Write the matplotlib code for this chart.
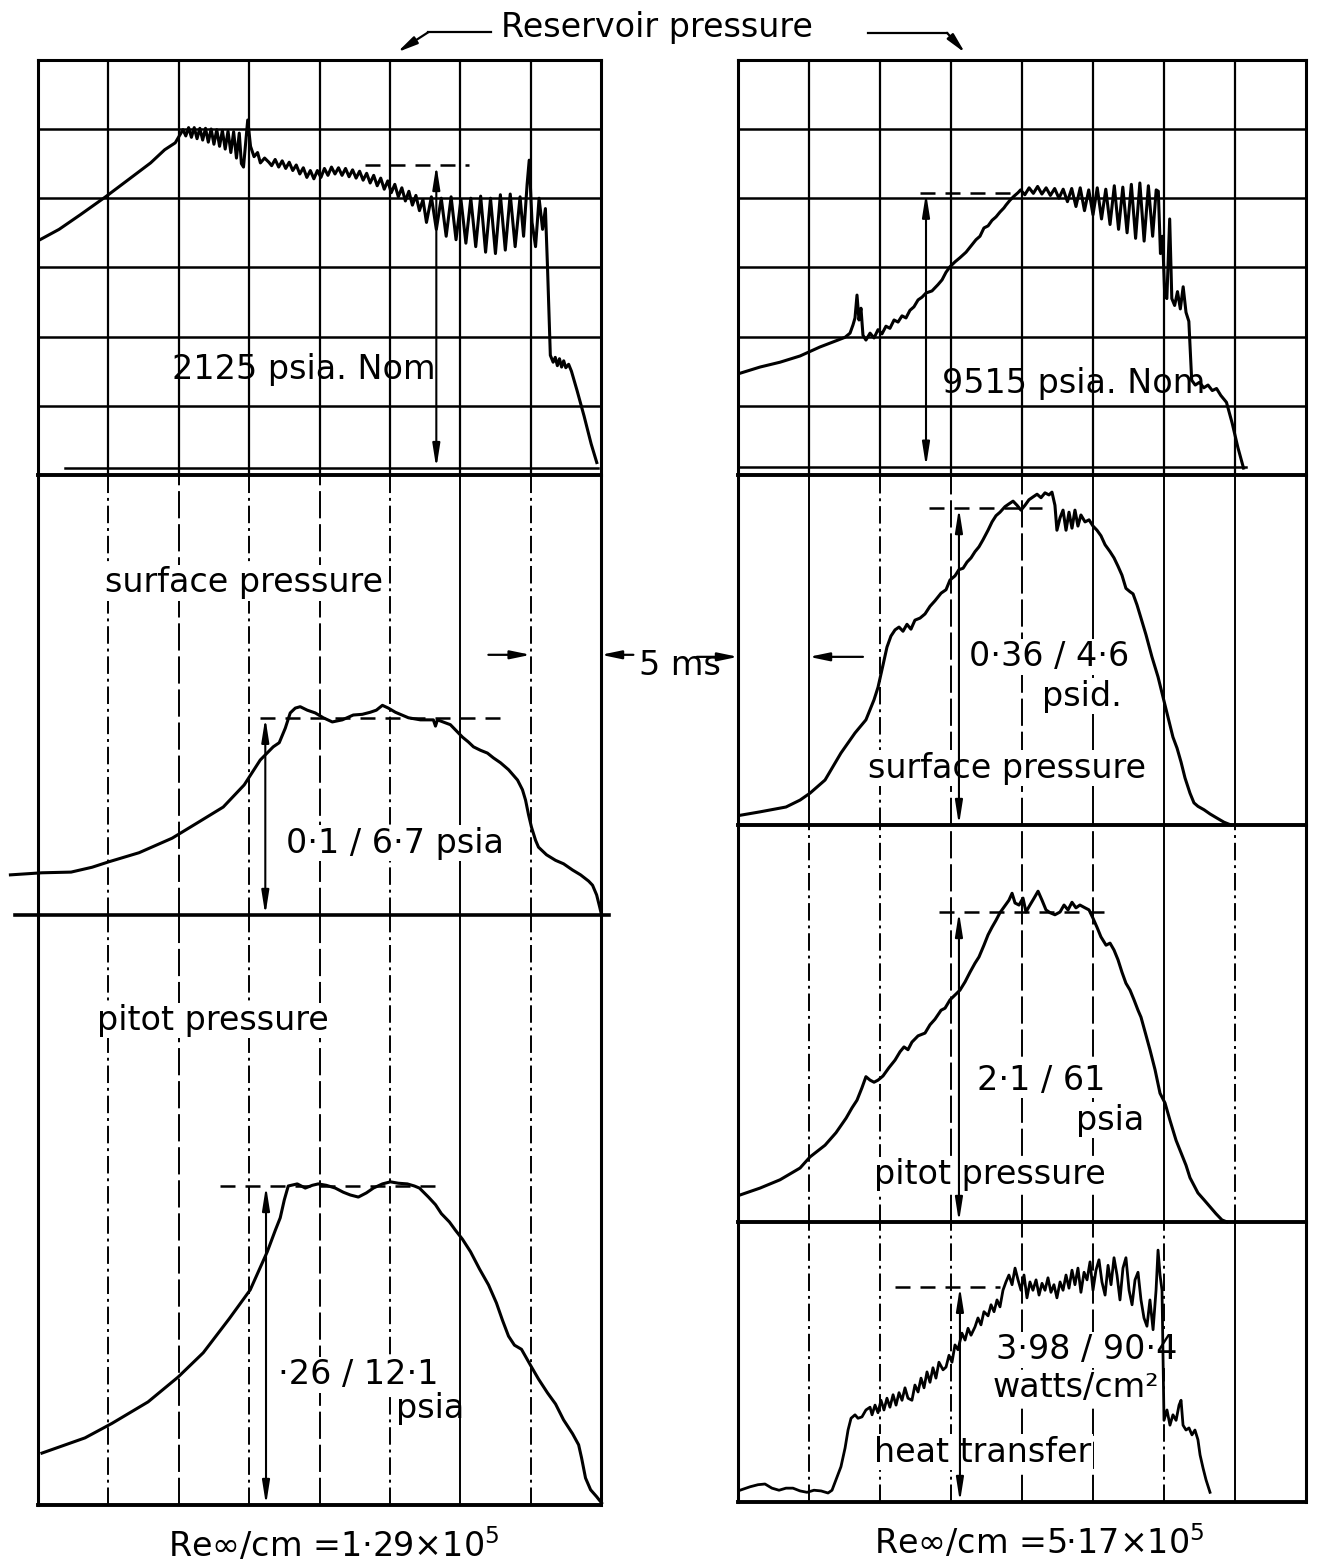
import numpy as np
import matplotlib.pyplot as plt

# time in ms (one grid division = 5 ms), signal in grid divisions above the trace baseline
res_left = [(0.14, 3.40), (1.5, 3.55), (3.0, 3.76), (4.8, 4.02), (6.5, 4.28), (8.0, 4.51), (9.0, 4.70),
            (9.75, 4.80), (10.3, 4.99), (10.5, 4.90), (10.7, 5.02), (10.9, 4.88), (11.1, 5.02), (11.3, 4.86),
            (11.5, 5.01), (11.7, 4.84), (11.9, 5.01), (12.1, 4.81), (12.3, 5.00), (12.5, 4.78), (12.7, 4.99),
            (12.9, 4.75), (13.1, 4.98), (13.3, 4.71), (13.5, 4.97), (13.7, 4.66), (13.9, 4.96), (14.1, 4.58),
            (14.3, 4.94), (14.45, 4.50), (14.6, 4.45), (14.9, 5.13), (15.1, 4.75), (15.35, 4.60), (15.6, 4.66),
            (15.8, 4.51), (16.1, 4.58), (16.4, 4.52), (16.6, 4.47), (16.85, 4.56), (17.1, 4.45), (17.35, 4.54),
            (17.6, 4.43), (17.85, 4.52), (18.1, 4.40), (18.35, 4.48), (18.6, 4.35), (18.85, 4.44), (19.1, 4.30),
            (19.35, 4.40), (19.6, 4.28), (19.85, 4.40), (20.1, 4.30), (20.35, 4.43), (20.6, 4.33), (20.85, 4.45),
            (21.1, 4.35), (21.35, 4.44), (21.6, 4.33), (21.85, 4.43), (22.1, 4.31), (22.35, 4.41), (22.6, 4.29),
            (22.85, 4.39), (23.1, 4.26), (23.35, 4.36), (23.6, 4.22), (23.85, 4.33), (24.1, 4.18), (24.35, 4.29),
            (24.6, 4.13), (24.85, 4.25), (25.1, 4.08), (25.35, 4.20), (25.6, 4.02), (25.85, 4.15), (26.1, 3.96),
            (26.35, 4.10), (26.6, 3.90), (26.85, 4.04), (27.1, 3.82), (27.35, 3.98), (27.6, 3.65), (27.95, 4.02),
            (28.3, 3.55), (28.65, 4.00), (29.0, 3.45), (29.35, 4.02), (29.7, 3.40), (30.05, 3.98), (30.4, 3.35),
            (30.75, 4.00), (31.1, 3.30), (31.45, 4.03), (31.8, 3.22), (32.15, 4.00), (32.5, 3.20), (32.85, 4.05),
            (33.2, 3.25), (33.55, 4.06), (33.9, 3.30), (34.25, 4.02), (34.5, 3.45), (34.75, 4.20), (34.9, 4.55),
            (35.1, 3.65), (35.35, 3.30), (35.6, 4.00), (35.85, 3.55), (36.05, 3.85), (36.2, 3.00), (36.4, 1.73),
            (36.6, 1.63), (36.75, 1.70), (36.9, 1.58), (37.05, 1.68), (37.2, 1.56), (37.35, 1.65), (37.5, 1.55),
            (37.7, 1.60), (37.9, 1.50), (38.3, 1.22), (38.8, 0.85), (39.3, 0.45), (39.7, 0.18)]

surf_left = [(-1.96, 0.58), (0.28, 0.61), (2.35, 0.62), (3.84, 0.69), (5.05, 0.77), (7.18, 0.90), (9.53, 1.11),
             (11.31, 1.33), (13.16, 1.56), (14.65, 1.88), (15.79, 2.24), (16.71, 2.43), (17.14, 2.49), (17.57, 2.70),
             (17.92, 2.92), (18.28, 2.99), (18.63, 3.01), (19.13, 2.96), (19.70, 2.92), (20.27, 2.85), (20.91, 2.79),
             (21.62, 2.82), (22.40, 2.89), (23.04, 2.90), (23.61, 2.93), (24.04, 2.96), (24.47, 3.03), (24.89, 2.99),
             (25.39, 2.93), (26.32, 2.85), (27.17, 2.82), (28.09, 2.82), (28.24, 2.73), (28.38, 2.82), (29.30, 2.75),
             (30.16, 2.57), (30.58, 2.50), (30.94, 2.43), (31.44, 2.38), (31.93, 2.34), (32.36, 2.27), (32.86, 2.20),
             (33.43, 2.10), (34.07, 1.95), (34.42, 1.81), (34.64, 1.66), (34.85, 1.45), (35.06, 1.27), (35.35, 1.08),
             (35.56, 0.98), (36.13, 0.87), (36.77, 0.79), (37.34, 0.74), (37.98, 0.65), (38.55, 0.58), (39.12, 0.49),
             (39.40, 0.43), (39.69, 0.29), (39.90, 0.12), (40.04, 0.0)]

pitot_left = [(0.28, 0.75), (3.34, 0.97), (5.26, 1.18), (7.82, 1.49), (9.96, 1.85), (11.74, 2.20), (13.58, 2.69),
              (15.08, 3.11), (16.29, 3.66), (16.86, 3.97), (17.21, 4.15), (17.50, 4.41), (17.78, 4.61), (18.42, 4.64),
              (18.99, 4.58), (19.49, 4.62), (19.91, 4.64), (20.48, 4.62), (21.12, 4.58), (21.69, 4.52), (22.19, 4.48),
              (22.76, 4.45), (23.33, 4.51), (23.83, 4.58), (24.47, 4.64), (25.04, 4.67), (25.60, 4.65), (26.24, 4.64),
              (26.74, 4.61), (27.10, 4.58), (27.74, 4.45), (28.24, 4.34), (28.66, 4.21), (29.23, 4.09), (29.66, 3.97),
              (30.16, 3.84), (30.73, 3.66), (31.37, 3.41), (32.01, 3.18), (32.57, 2.92), (33.00, 2.67), (33.43, 2.44),
              (33.85, 2.31), (34.35, 2.25), (34.99, 2.02), (35.56, 1.82), (36.20, 1.62), (36.77, 1.46), (37.34, 1.23),
              (37.98, 1.03), (38.41, 0.87), (38.62, 0.68), (38.90, 0.39), (39.26, 0.22), (39.69, 0.12), (40.04, 0.03)]

res_right = [(0.14, 1.47), (1.55, 1.56), (2.96, 1.63), (4.37, 1.72), (5.77, 1.85), (7.04, 1.95), (7.54, 1.99),
             (7.89, 2.05), (8.10, 2.17), (8.24, 2.27), (8.38, 2.60), (8.52, 2.24), (8.66, 2.41), (8.80, 2.02),
             (9.01, 1.95), (9.30, 2.05), (9.58, 1.98), (9.86, 2.10), (10.14, 2.04), (10.42, 2.15), (10.70, 2.12),
             (10.99, 2.24), (11.27, 2.21), (11.55, 2.30), (11.83, 2.27), (12.11, 2.38), (12.39, 2.43), (12.68, 2.53),
             (12.96, 2.57), (13.24, 2.63), (13.66, 2.66), (14.08, 2.75), (14.37, 2.82), (14.65, 2.93), (14.93, 3.01),
             (15.28, 3.08), (15.63, 3.14), (16.06, 3.22), (16.41, 3.31), (16.76, 3.40), (17.04, 3.45), (17.32, 3.57),
             (17.61, 3.60), (17.89, 3.68), (18.17, 3.73), (18.45, 3.80), (18.73, 3.86), (18.87, 3.90), (19.15, 3.97),
             (19.44, 4.03), (19.72, 4.08), (19.9, 4.12), (20.2, 4.05), (20.5, 4.15), (20.8, 4.07), (21.1, 4.17),
             (21.4, 4.06), (21.7, 4.15), (22.0, 4.04), (22.3, 4.14), (22.6, 4.00), (22.9, 4.13), (23.2, 3.95),
             (23.5, 4.14), (23.8, 3.88), (24.1, 4.15), (24.4, 3.82), (24.7, 4.12), (25.0, 3.76), (25.3, 4.15),
             (25.6, 3.70), (25.9, 4.13), (26.2, 3.62), (26.5, 4.18), (26.8, 3.55), (27.1, 4.16), (27.4, 3.50),
             (27.7, 4.20), (28.0, 3.42), (28.3, 4.22), (28.6, 3.38), (28.9, 4.18), (29.2, 3.45), (29.45, 4.12),
             (29.6, 4.10), (29.75, 3.20), (29.9, 3.45), (30.05, 2.60), (30.2, 2.55), (30.4, 3.70), (30.55, 2.55),
             (30.75, 2.45), (30.95, 2.65), (31.15, 2.40), (31.35, 2.72), (31.55, 2.35), (31.75, 2.22), (31.95, 1.37),
             (32.2, 1.30), (32.5, 1.34), (32.8, 1.26), (33.1, 1.30), (33.4, 1.22), (33.7, 1.25), (34.0, 1.15),
             (34.4, 1.05), (34.8, 0.75), (35.2, 0.40), (35.6, 0.10)]

surf_right = [(0.14, 0.14), (1.55, 0.19), (3.38, 0.26), (4.37, 0.36), (5.07, 0.46), (6.13, 0.65), (7.25, 1.04),
              (8.24, 1.33), (9.01, 1.52), (9.58, 1.81), (9.86, 1.99), (10.21, 2.31), (10.49, 2.57), (10.77, 2.73),
              (11.06, 2.82), (11.34, 2.86), (11.62, 2.80), (11.90, 2.90), (12.18, 2.83), (12.46, 2.96), (12.82, 2.99),
              (13.17, 3.05), (13.52, 3.16), (13.87, 3.24), (14.30, 3.35), (14.65, 3.40), (14.93, 3.54), (15.28, 3.60),
              (15.56, 3.69), (15.85, 3.71), (16.13, 3.80), (16.41, 3.86), (16.69, 3.95), (16.97, 4.02), (17.25, 4.12),
              (17.61, 4.26), (17.89, 4.38), (18.17, 4.47), (18.45, 4.52), (18.80, 4.60), (19.08, 4.64), (19.37, 4.68),
              (19.65, 4.62), (19.93, 4.55), (20.21, 4.62), (20.49, 4.70), (20.77, 4.74), (21.06, 4.78), (21.34, 4.73),
              (21.62, 4.80), (21.90, 4.77), (22.11, 4.81), (22.32, 4.62), (22.46, 4.26), (22.68, 4.44), (22.89, 4.55),
              (23.10, 4.26), (23.31, 4.52), (23.52, 4.29), (23.73, 4.55), (23.94, 4.32), (24.15, 4.48), (24.44, 4.38),
              (24.72, 4.41), (25.00, 4.32), (25.28, 4.26), (25.56, 4.18), (25.85, 4.05), (26.20, 3.95), (26.48, 3.86),
              (26.76, 3.74), (27.04, 3.61), (27.32, 3.42), (27.61, 3.37), (27.82, 3.34), (28.10, 3.18), (28.38, 2.99),
              (28.73, 2.75), (29.15, 2.43), (29.58, 2.14), (29.93, 1.85), (30.28, 1.56), (30.63, 1.27), (30.92, 1.11),
              (31.20, 0.91), (31.48, 0.68), (31.83, 0.46), (32.11, 0.32), (32.39, 0.27), (32.82, 0.22), (33.24, 0.16),
              (33.73, 0.10), (34.23, 0.04), (34.72, 0.0)]

pitot_right = [(0.14, 0.39), (1.55, 0.49), (2.96, 0.61), (4.37, 0.78), (5.07, 0.94), (6.13, 1.11), (6.90, 1.29),
               (7.61, 1.50), (8.03, 1.65), (8.38, 1.76), (8.73, 1.94), (9.01, 2.10), (9.30, 2.05), (9.58, 2.02),
               (9.86, 2.05), (10.21, 2.11), (10.63, 2.23), (11.06, 2.34), (11.41, 2.46), (11.69, 2.53), (11.97, 2.49),
               (12.25, 2.60), (12.68, 2.69), (13.17, 2.73), (13.52, 2.85), (13.87, 2.93), (14.30, 3.06), (14.58, 3.09),
               (14.93, 3.21), (15.28, 3.28), (15.63, 3.35), (15.99, 3.47), (16.34, 3.61), (16.69, 3.74), (16.97, 3.83),
               (17.32, 4.00), (17.61, 4.15), (17.89, 4.26), (18.17, 4.36), (18.45, 4.47), (18.73, 4.55), (19.08, 4.65),
               (19.30, 4.75), (19.51, 4.61), (19.79, 4.58), (20.07, 4.68), (20.28, 4.48), (20.56, 4.58), (20.85, 4.68),
               (21.13, 4.78), (21.41, 4.65), (21.69, 4.51), (21.97, 4.47), (22.32, 4.44), (22.68, 4.48), (22.96, 4.58),
               (23.24, 4.51), (23.52, 4.62), (23.80, 4.54), (24.08, 4.58), (24.44, 4.54), (24.72, 4.51), (25.00, 4.39),
               (25.28, 4.26), (25.56, 4.12), (25.92, 4.00), (26.20, 4.03), (26.48, 3.93), (26.76, 3.79), (27.04, 3.61),
               (27.32, 3.45), (27.61, 3.35), (27.89, 3.21), (28.17, 3.06), (28.38, 2.96), (28.73, 2.70), (29.01, 2.49),
               (29.37, 2.20), (29.72, 1.86), (30.07, 1.72), (30.42, 1.47), (30.85, 1.18), (31.20, 1.00), (31.55, 0.82),
               (31.83, 0.64), (32.11, 0.53), (32.39, 0.42), (32.82, 0.32), (33.24, 0.22), (33.66, 0.12), (34.08, 0.03),
               (34.44, 0.0)]

heat_right = [(0.14, 0.17), (0.85, 0.22), (1.41, 0.25), (1.90, 0.26), (2.39, 0.20), (2.89, 0.17), (3.38, 0.20),
              (3.87, 0.20), (4.37, 0.16), (4.86, 0.14), (5.35, 0.17), (5.85, 0.16), (6.34, 0.13), (6.62, 0.17),
              (6.90, 0.32), (7.25, 0.51), (7.54, 0.78), (7.75, 1.04), (7.96, 1.21), (8.24, 1.26), (8.45, 1.21),
              (8.73, 1.23), (9.01, 1.33), (9.30, 1.37), (9.44, 1.26), (9.65, 1.40), (9.86, 1.29), (10.07, 1.47),
              (10.28, 1.33), (10.49, 1.50), (10.70, 1.37), (10.92, 1.55), (11.13, 1.40), (11.34, 1.58), (11.55, 1.47),
              (11.76, 1.65), (11.97, 1.50), (12.25, 1.47), (12.46, 1.69), (12.68, 1.59), (12.89, 1.79), (13.10, 1.65),
              (13.31, 1.88), (13.52, 1.73), (13.73, 1.94), (13.94, 1.79), (14.15, 2.02), (14.44, 1.91), (14.65, 1.95),
              (14.86, 2.12), (15.07, 2.02), (15.28, 2.27), (15.49, 2.20), (15.77, 2.44), (15.99, 2.34), (16.20, 2.51),
              (16.41, 2.41), (16.69, 2.53), (16.90, 2.66), (17.11, 2.56), (17.32, 2.75), (17.61, 2.69), (17.82, 2.85),
              (18.03, 2.75), (18.24, 2.92), (18.45, 2.82), (18.66, 3.06), (18.87, 3.18), (19.08, 3.28), (19.30, 3.14),
              (19.51, 3.38), (19.72, 3.21), (19.93, 3.06), (20.14, 3.28), (20.35, 2.95), (20.56, 3.18), (20.77, 3.06),
              (20.99, 3.21), (21.20, 2.99), (21.41, 3.16), (21.62, 3.06), (21.83, 3.24), (22.04, 3.03), (22.25, 3.14),
              (22.46, 2.95), (22.68, 3.18), (22.89, 3.06), (23.10, 3.28), (23.31, 3.09), (23.52, 3.35), (23.73, 3.14),
              (23.94, 3.38), (24.15, 3.03), (24.37, 3.32), (24.58, 3.21), (24.79, 3.47), (25.00, 3.06), (25.21, 3.35),
              (25.42, 3.50), (25.63, 3.18), (25.85, 2.99), (26.06, 3.42), (26.27, 3.14), (26.48, 3.53), (26.69, 3.28),
              (26.90, 2.92), (27.11, 3.38), (27.32, 3.53), (27.54, 3.06), (27.75, 2.85), (27.96, 3.21), (28.17, 3.32),
              (28.38, 2.92), (28.59, 2.66), (28.80, 2.54), (29.01, 2.92), (29.23, 2.49), (29.44, 3.06), (29.58, 3.64),
              (29.72, 3.28), (29.86, 3.06), (30.00, 1.18), (30.21, 1.33), (30.42, 1.11), (30.63, 1.26), (30.85, 1.18),
              (31.06, 1.40), (31.20, 1.47), (31.34, 1.11), (31.55, 1.04), (31.76, 1.07), (31.97, 0.97), (32.18, 1.04),
              (32.39, 0.90), (32.54, 0.68), (32.75, 0.49), (32.96, 0.32), (33.24, 0.14)]

# nominal (dashed) levels: (level, dash start, dash end, arrow time, arrow bottom)
nominal = {
    'res_left': (4.48, 23.2, 30.6, 28.3, 0.10),
    'res_right': (4.08, 12.8, 19.15, 13.24, 0.12),
    'surf_left': (2.85, 15.8, 33.3, 16.15, 0.0),
    'pitot_left': (4.61, 12.9, 28.7, 16.2, 0.0),
    'surf_right': (4.58, 13.45, 21.4, 15.56, 0.0),
    'pitot_right': (4.48, 14.15, 26.2, 15.56, 0.0),
    'heat_right': (3.11, 11.06, 18.45, 15.63, 0.0),
}

W, H = 1322, 1566
DIV = 69.2
FS = 24
LS = {'s': '-', 'd': (0, (9, 2.5, 1.5, 2.5)), 'l': (0, (14, 3))}

fig = plt.figure(figsize=(13.22, 15.66), dpi=100)


def panel(x0, x1, top, bot):
    ax = fig.add_axes([x0 / W, 1 - bot / H, (x1 - x0) / W, (bot - top) / H])
    ax.set_xlim(0, 40)
    ax.set_ylim(0, (bot - top) / DIV)
    ax.axis('off')
    ax.axvline(0, color='k', lw=2.2, zorder=2, clip_on=False)
    ax.axvline(40, color='k', lw=2.2, zorder=2, clip_on=False)
    return ax


def base(ax, lw=2.8):
    ax.axhline(0, color='k', lw=lw, zorder=2, clip_on=False)


def vgrid(ax, styles, lw=1.4):
    for k, st in enumerate(styles):
        ax.axvline(5 * (k + 1), color='k', lw=lw, ls=LS[st], zorder=1)


def trace(ax, pts, lw=2.2):
    d = np.array(pts)
    ax.plot(d[:, 0], d[:, 1], color='k', lw=lw, clip_on=False, zorder=4,
            solid_joinstyle='round')


def level(ax, key):
    lev, t0, t1, ta, lo = nominal[key]
    ax.plot([t0, t1], [lev, lev], color='k', lw=1.8, ls=(0, (6, 4)), zorder=4)
    ax.annotate('', xy=(ta, lev), xytext=(ta, lo), zorder=5, annotation_clip=False,
                arrowprops=dict(arrowstyle='<|-|>,head_length=1.4,head_width=0.22',
                                color='k', lw=1.5, shrinkA=0, shrinkB=0))


def label(ax, t, a, s, box=True):
    kw = dict(fontsize=FS, ha='left', va='center', zorder=3)
    if box:
        kw['bbox'] = dict(fc='white', ec='none', pad=1)
    ax.text(t, a, s, **kw)


def reservoir(ax, zero_from, zero_to, zero):
    for k in range(1, 6):
        ax.axhline(k, color='k', lw=1.8, zorder=1)
    ax.axhline(6, color='k', lw=2.2, zorder=2, clip_on=False)
    base(ax)
    ax.plot([zero_from, zero_to], [zero, zero], color='k', lw=1.8, zorder=2)
    vgrid(ax, 'sssssss', lw=1.6)


# left column
axLR = panel(38, 601, 60, 475)
reservoir(axLR, 1.9, 39.8, 0.10)
trace(axLR, res_left)
level(axLR, 'res_left')
label(axLR, 9.53, 1.52, '2125 psia. Nom', box=False)

axLS = panel(38, 601, 475, 915)
vgrid(axLS, 'dldldsd')
axLS.plot([-1.64, 40.6], [0, 0], color='k', lw=2.6, clip_on=False, zorder=2)
trace(axLS, surf_left)
level(axLS, 'surf_left')
label(axLS, 4.77, 4.80, 'surface pressure')
label(axLS, 17.6, 1.04, '0·1 / 6·7 psia')

axLP = panel(38, 601, 915, 1505)
vgrid(axLP, 'dldldsd')
base(axLP)
trace(axLP, pitot_left)
level(axLP, 'pitot_left')
label(axLP, 4.2, 7.0, 'pitot pressure')
label(axLP, 17.07, 1.88, '·26 / 12·1')
label(axLP, 25.46, 1.39, 'psia', box=False)
axLP.text(9.25, -0.58, 'Re∞/cm =1·29×10$^{5}$', fontsize=FS, ha='left', va='center')

# right column
axRR = panel(738, 1306, 60, 475)
reservoir(axRR, 0.0, 35.8, 0.12)
trace(axRR, res_right)
level(axRR, 'res_right')
label(axRR, 14.4, 1.32, '9515 psia. Nom', box=False)

axRS = panel(738, 1306, 475, 825)
vgrid(axRS, 'sdllsss')
base(axRS)
trace(axRS, surf_right)
level(axRS, 'surf_right')
label(axRS, 16.27, 2.43, '0·36 / 4·6')
label(axRS, 21.4, 1.86, 'psid.')
label(axRS, 9.15, 0.82, 'surface pressure')

axRP = panel(738, 1306, 825, 1222)
vgrid(axRP, 'ddlllsd')
base(axRP)
trace(axRP, pitot_right)
level(axRP, 'pitot_right')
label(axRP, 16.8, 2.05, '2·1 / 61')
label(axRP, 23.8, 1.47, 'psia')
label(axRP, 9.6, 0.68, 'pitot pressure')

axRH = panel(738, 1306, 1222, 1502)
vgrid(axRH, 'dddllds')
base(axRH)
trace(axRH, heat_right, lw=2.0)
level(axRH, 'heat_right')
label(axRH, 18.17, 2.2, '3·98 / 90·4')
label(axRH, 17.9, 1.65, 'watts/cm²')
label(axRH, 9.58, 0.72, 'heat transfer')
axRH.text(9.58, -0.58, 'Re∞/cm =5·17×10$^{5}$', fontsize=FS, ha='left', va='center')

# heading with bent arrows to both reservoir traces
fig.text(501 / W, 1 - 27 / H, 'Reservoir pressure', fontsize=FS, ha='left', va='center')
arrow = dict(arrowstyle='-|>,head_length=1.2,head_width=0.25', color='k', lw=1.6,
             shrinkA=0, shrinkB=0)
axLR.plot([32.15, 27.74], [6.40, 6.40], color='k', lw=1.6, clip_on=False)
axLR.annotate('', xy=(25.53, 6.11), xytext=(27.74, 6.40), arrowprops=arrow,
              annotation_clip=False)
axRR.plot([9.15, 14.72], [6.39, 6.39], color='k', lw=1.6, clip_on=False)
axRR.annotate('', xy=(15.99, 6.10), xytext=(14.72, 6.39), arrowprops=arrow,
              annotation_clip=False)

# 5 ms time scale marker
axLS.annotate('', xy=(35.0, 3.76), xytext=(32.0, 3.76), arrowprops=arrow, annotation_clip=False)
axLS.annotate('', xy=(40.0, 3.76), xytext=(42.3, 3.76), arrowprops=arrow, annotation_clip=False)
axLS.text(42.7, 3.61, '5 ms', fontsize=FS, ha='left', va='center')
axRS.annotate('', xy=(0.0, 2.43), xytext=(-2.9, 2.43), arrowprops=arrow, annotation_clip=False)
axRS.annotate('', xy=(5.0, 2.43), xytext=(8.8, 2.43), arrowprops=arrow, annotation_clip=False)

fig.savefig('out.png', dpi=100, facecolor='white')
